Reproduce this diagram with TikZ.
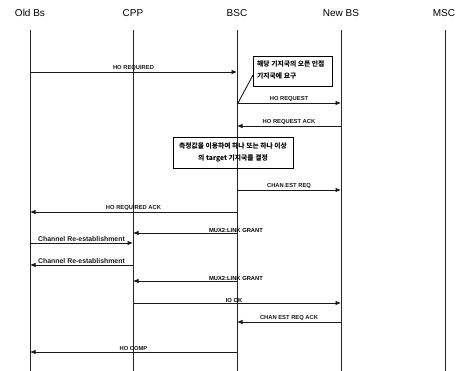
\documentclass[tikz,border=0pt]{standalone}
\usepackage{fontspec}
\setmainfont{Liberation Sans}
\newfontfamily\kofont{Noto Sans CJK KR}
\usetikzlibrary{arrows.meta}
\tikzset{
  head/.style={font=\fontsize{10}{12}\selectfont, inner sep=0pt},
  life/.style={line width=0.9pt, black!85},
  msg/.style={line width=0.8pt, black!90, -{Latex[length=5.5pt,width=4.5pt]}},
  lbl/.style={font=\bfseries\fontsize{5.8}{7}\selectfont, inner sep=0.6pt, above},
  lblbig/.style={font=\bfseries\fontsize{6.9}{8}\selectfont, inner sep=0.6pt, above},
  notebox/.style={draw, line width=0.8pt, inner sep=0pt},
  notetext/.style={font=\kofont\bfseries\fontsize{6.8}{12}\selectfont, inner sep=0pt}
}
\begin{document}
\begin{tikzpicture}[x=1pt,y=-1pt]
\useasboundingbox (0,0) rectangle (456,371);
% headers
\node[head] (oldbs) at (30,13) {Old Bs};
\node[head] (cpp) at (133,13) {CPP};
\node[head] (bsc) at (237,13) {BSC};
\node[head] (newbs) at (341,13) {New BS};
\node[head] (msc) at (444,13) {MSC};
% lifeline ends
\coordinate (oldbsT) at (30,30);  \coordinate (oldbsB) at (30,371);
\coordinate (cppT) at (133,30);   \coordinate (cppB) at (133,371);
\coordinate (bscT) at (237,30);   \coordinate (bscB) at (237,371);
\coordinate (newbsT) at (341,30); \coordinate (newbsB) at (341,371);
\coordinate (mscT) at (445,30);   \coordinate (mscB) at (445,371);
\draw[life] (oldbsT) -- (oldbsB);
\draw[life] (cppT) -- (cppB);
\draw[life] (bscT) -- (bscB);
\draw[life] (newbsT) -- (newbsB);
\draw[life] (mscT) -- (mscB);
% note 1
\draw[notebox] (253,56) rectangle (332,86);
\node[notetext, anchor=base west] (n1a) at (257,67) {해당 기지국의 오픈 인접};
\node[notetext, anchor=base west] (n1b) at (257,79) {기지국에 요구};
\coordinate (n1p) at (253,75);
\coordinate (n1q) at (238,103);
\draw[line width=0.8pt] (n1p) -- (n1q);
% note 2
\draw[notebox] (173,137) rectangle (293,168);
\node[notetext, anchor=base] (n2a) at (233,149) {측정값을 이용하여 하나 또는 하나 이상};
\node[notetext, anchor=base] (n2b) at (233,161) {의 \textbf{target} 기지국를 결정};
% messages
\draw[msg] (oldbsT |- 0,72) -- node[lbl] {HO REQUIRED} (bscT |- 0,72);
\draw[msg] (bscT |- 0,103) -- node[lbl] {HO REQUEST} (newbsT |- 0,103);
\draw[msg] (newbsT |- 0,126) -- node[lbl] {HO REQUEST ACK} (bscT |- 0,126);
\draw[msg] (bscT |- 0,190) -- node[lbl] {CHAN EST REQ} (newbsT |- 0,190);
\draw[msg] (bscT |- 0,212) -- node[lbl] {HO REQUIRED ACK} (oldbsT |- 0,212);
\draw[msg] (bscT |- 0,233) -- (cppT |- 0,233);
\node[lbl] (mux1) at (236,233) {MUX2:LINK GRANT};
\draw[msg] (oldbsT |- 0,243) -- node[lblbig] {Channel Re-establishment} (cppT |- 0,243);
\draw[msg] (cppT |- 0,265) -- node[lblbig] {Channel Re-establishment} (oldbsT |- 0,265);
\draw[msg] (bscT |- 0,281) -- (cppT |- 0,281);
\node[lbl] (mux2) at (236,281) {MUX2:LINK GRANT};
\draw[msg] (cppT |- 0,303) -- (newbsT |- 0,303);
\node[lbl] (iook) at (234,303) {IO OK};
\draw[msg] (newbsT |- 0,322) -- node[lbl] {CHAN EST REQ ACK} (bscT |- 0,322);
\draw[msg] (bscT |- 0,352) -- node[lbl] {HO COMP} (oldbsT |- 0,352);
\end{tikzpicture}
\end{document}
